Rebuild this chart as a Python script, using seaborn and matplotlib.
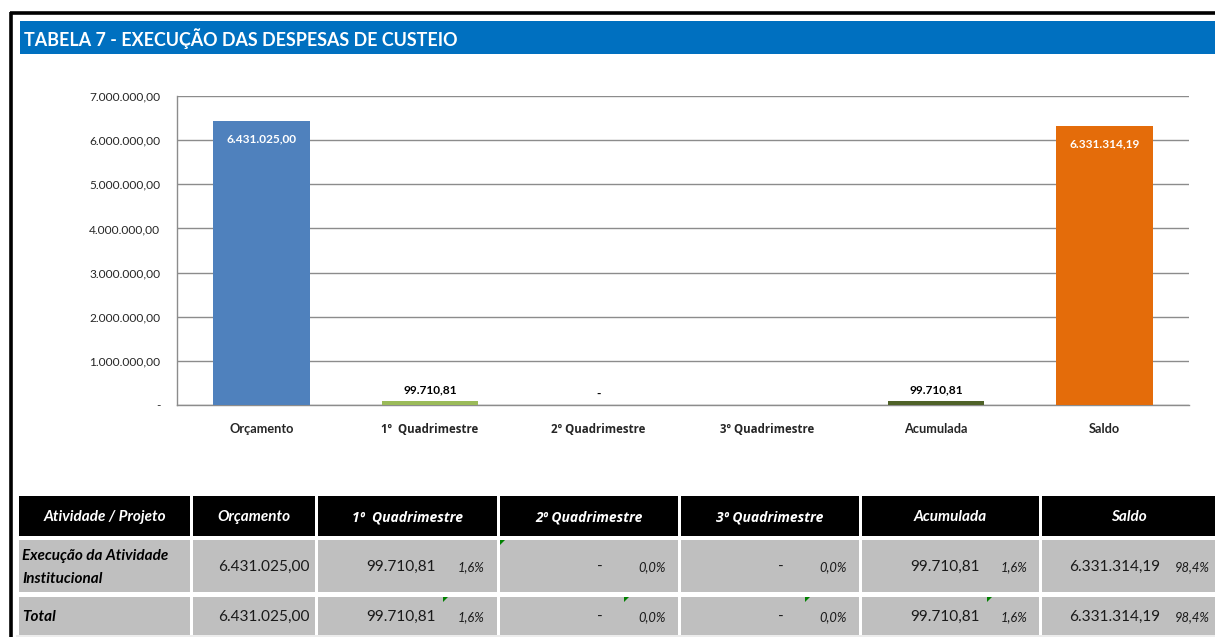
import matplotlib
matplotlib.use("Agg")
import matplotlib.pyplot as plt
import seaborn as sns
import pandas as pd
from matplotlib.patches import Rectangle, Polygon

# ---------------- data ----------------
categories = ["Orçamento", "1º  Quadrimestre", "2º Quadrimestre", "3º Quadrimestre", "Acumulada", "Saldo"]
values = [6431025.00, 99710.81, 0.0, 0.0, 99710.81, 6331314.19]
bar_labels = ["6.431.025,00", "99.710,81", "-", "", "99.710,81", "6.331.314,19"]
bar_colors = ["#4F81BD", "#9BBB59", "#9BBB59", "#9BBB59", "#4F6228", "#E46C0A"]
y_ticks = [0, 1000000, 2000000, 3000000, 4000000, 5000000, 6000000, 7000000]
y_tick_labels = ["-", "1.000.000,00", "2.000.000,00", "3.000.000,00", "4.000.000,00",
                 "5.000.000,00", "6.000.000,00", "7.000.000,00"]

title = "TABELA 7 - EXECUÇÃO DAS DESPESAS DE CUSTEIO"

table_headers = ["Atividade / Projeto", "Orçamento", "1º  Quadrimestre", "2º Quadrimestre",
                 "3º Quadrimestre", "Acumulada", "Saldo"]
row_names = [["Execução da Atividade", "Institucional"], ["Total"]]
row_values = [["6.431.025,00", "99.710,81", "-", "-", "99.710,81", "6.331.314,19"],
              ["6.431.025,00", "99.710,81", "-", "-", "99.710,81", "6.331.314,19"]]
row_pcts = [["", "1,6%", "0,0%", "0,0%", "1,6%", "98,4%"],
            ["", "1,6%", "0,0%", "0,0%", "1,6%", "98,4%"]]

# ---------------- figure ----------------
W, H = 1215, 637
sns.set_theme(style="white")
plt.rcParams["font.family"] = ["Lato", "DejaVu Sans"]
ORD_FONT = ["Open Sans", "DejaVu Sans"]  # has an underlined ordinal indicator


def fam(s):
    return ORD_FONT if "º" in s else ["Lato", "DejaVu Sans"]


fig = plt.figure(figsize=(W / 100, H / 100), dpi=100)
fig.patch.set_facecolor("white")

# overlay for frame, title bar and table (pixel coordinates)
ov = fig.add_axes([0, 0, 1, 1], zorder=0)
ov.set_xlim(0, W)
ov.set_ylim(H, 0)
ov.axis("off")

# outer black frame
ov.plot([10, W], [13, 13], color="black", lw=2.6, solid_capstyle="butt")
ov.plot([11, 11], [12, H], color="black", lw=2.6, solid_capstyle="butt")

# title bar
ov.add_patch(Rectangle((20, 21), W - 20, 33, color="#0070C0", lw=0))
ov.text(24, 38.5, title, color="white", fontsize=12.9, fontweight="bold",
        va="center", ha="left")

# ---------------- chart ----------------
left, right, top, bottom = 177, 1189, 96, 405
ax = fig.add_axes([left / W, (H - bottom) / H, (right - left) / W, (bottom - top) / H], zorder=2)
ax.set_facecolor("none")

df = pd.DataFrame({"cat": categories, "val": values})
sns.barplot(data=df, x="cat", y="val", hue="cat", palette=bar_colors, dodge=False,
            legend=False, width=0.575, saturation=1, ax=ax, linewidth=0, zorder=3)

ax.set_ylim(0, 7000000)
ax.set_yticks(y_ticks)
ax.set_yticklabels(y_tick_labels, fontsize=8.6)
ax.set_xlabel("")
ax.set_ylabel("")
ax.tick_params(axis="x", length=0, pad=13)
ax.tick_params(axis="y", length=0, pad=12)
for lbl in ax.get_xticklabels():
    t = lbl.get_text()
    lbl.set_fontweight("bold")
    lbl.set_family(fam(t))
    lbl.set_fontsize(8.3 if "º" in t else 9.2)
ax.grid(axis="y", color="#8C8C8C", lw=1.0, zorder=0)
ax.set_axisbelow(True)
for s in ["top", "right"]:
    ax.spines[s].set_visible(False)
ax.spines["left"].set_color("#8C8C8C")
ax.spines["bottom"].set_color("#8C8C8C")
ax.spines["left"].set_linewidth(1.0)
ax.spines["bottom"].set_linewidth(1.0)

for i, (v, lab) in enumerate(zip(values, bar_labels)):
    if not lab:
        continue
    if v > 1000000:
        ax.annotate(lab, xy=(i, v), xytext=(0, -18 * 0.72), textcoords="offset points",
                    ha="center", va="center", color="white", fontsize=8.6, fontweight="bold")
    else:
        ax.annotate(lab, xy=(i, v), xytext=(0, 5 * 0.72), textcoords="offset points",
                    ha="center", va="bottom", color="black", fontsize=8.6, fontweight="bold")

# ---------------- table ----------------
col_x = [(19, 190), (193, 315), (318, 497), (500, 678), (681, 859), (862, 1039), (1042, W)]
hdr_y = (496, 536)
row_y = [(540, 592), (597, 635)]

ov.add_patch(Rectangle((16, 635), W - 16, 2, color="#EDEDED", lw=0))
for (x0, x1), h in zip(col_x, table_headers):
    ov.add_patch(Rectangle((x0, hdr_y[0]), x1 - x0, hdr_y[1] - hdr_y[0], color="black", lw=0))
    ov.text((x0 + x1) / 2, (hdr_y[0] + hdr_y[1]) / 2 + 1, h, color="white",
            fontsize=10.0 if "º" in h else 11.0, family=fam(h),
            fontweight="bold", fontstyle="italic", ha="center", va="center")

val_right = [310, 436, 603, 784, 980, 1160]
pct_right = [None, 485, 666, 847, 1028, 1210]
for r, (y0, y1) in enumerate(row_y):
    ym = (y0 + y1) / 2 + 1
    for (x0, x1) in col_x:
        ov.add_patch(Rectangle((x0, y0), x1 - x0, y1 - y0, color="#BFBFBF", lw=0))
    names = row_names[r]
    if len(names) == 2:
        ov.text(22, ym - 11, names[0], fontsize=11, fontweight="bold", fontstyle="italic",
                ha="left", va="center", color="black")
        ov.text(22, ym + 12, names[1], fontsize=11, fontweight="bold", fontstyle="italic",
                ha="left", va="center", color="black")
    else:
        ov.text(22, ym, names[0], fontsize=11, fontweight="bold", fontstyle="italic",
                ha="left", va="center", color="black")
    for c in range(6):
        ov.text(val_right[c], ym, row_values[r][c], fontsize=11.1, ha="right", va="center",
                color="#1A1A1A")
        if row_pcts[r][c]:
            ov.text(pct_right[c], ym, row_pcts[r][c], fontsize=9.3, fontstyle="italic",
                    ha="right", va="center", color="#1A1A1A")

# small green error-indicator triangles
tri_pos = [(500, 540), (443, 597), (624, 597), (805, 597), (987, 597)]
for (tx, ty) in tri_pos:
    ov.add_patch(Polygon([(tx, ty), (tx + 5, ty), (tx, ty + 5)], closed=True,
                         color="#008000", lw=0))

fig.savefig("out.png", dpi=100, facecolor="white")
